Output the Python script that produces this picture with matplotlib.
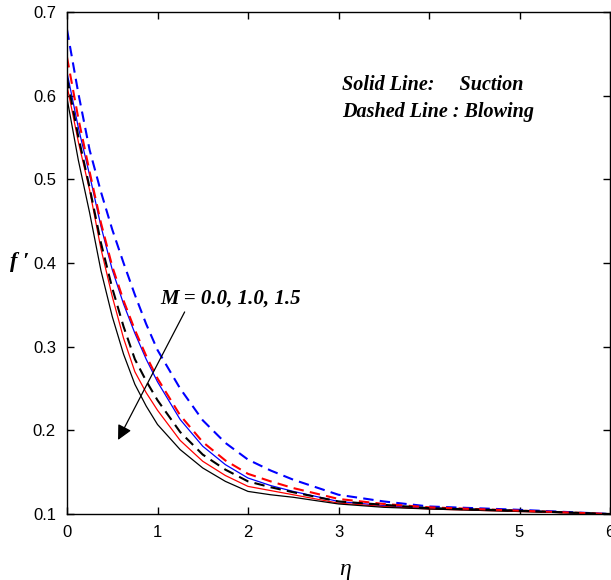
import matplotlib
matplotlib.use("Agg")
import matplotlib.pyplot as plt

# --- data ---
eta = [0.0, 0.125, 0.25, 0.375, 0.5, 0.625, 0.75, 0.875, 1.0, 1.25, 1.5, 1.75,
       2.0, 2.25, 2.5, 3.0, 3.5, 4.0, 5.0, 6.0]

# Dashed (blowing)
blow_M00 = [0.679, 0.603, 0.535, 0.485, 0.440, 0.400, 0.362, 0.327, 0.296, 0.250,
            0.212, 0.185, 0.165, 0.152, 0.141, 0.123, 0.115, 0.109, 0.105, 0.100]
blow_M10 = [0.646, 0.573, 0.509, 0.448, 0.396, 0.355, 0.320, 0.289, 0.262, 0.218,
            0.186, 0.164, 0.148, 0.139, 0.131, 0.118, 0.112, 0.108, 0.104, 0.100]
blow_M15 = [0.621, 0.551, 0.490, 0.424, 0.370, 0.324, 0.285, 0.259, 0.236, 0.198,
            0.171, 0.153, 0.139, 0.132, 0.126, 0.115, 0.111, 0.107, 0.104, 0.100]
# Solid (suction)
suct_M00 = [0.628, 0.562, 0.505, 0.444, 0.392, 0.351, 0.316, 0.285, 0.258, 0.213,
            0.181, 0.159, 0.143, 0.134, 0.127, 0.115, 0.110, 0.107, 0.104, 0.100]
suct_M10 = [0.612, 0.545, 0.487, 0.417, 0.360, 0.310, 0.270, 0.245, 0.224, 0.188,
            0.163, 0.146, 0.133, 0.128, 0.123, 0.113, 0.109, 0.106, 0.103, 0.100]
suct_M15 = [0.597, 0.523, 0.460, 0.391, 0.336, 0.291, 0.255, 0.229, 0.207, 0.177,
            0.155, 0.139, 0.127, 0.123, 0.120, 0.112, 0.108, 0.106, 0.103, 0.100]

xticks = [0, 1, 2, 3, 4, 5, 6]
yticks = [0.1, 0.2, 0.3, 0.4, 0.5, 0.6, 0.7]

serif = ['Liberation Serif', 'DejaVu Serif']
sans = ['Liberation Sans', 'DejaVu Sans']

fig = plt.figure(figsize=(6.11, 5.80), dpi=100)
ax = fig.add_axes([67/611, 1 - 514/580, (610 - 67)/611, (514 - 12)/580])

dash = (5, 3)
ax.plot(eta, suct_M00, color='blue', lw=0.9)
ax.plot(eta, suct_M10, color='red', lw=0.9)
ax.plot(eta, suct_M15, color='black', lw=0.9)
ax.plot(eta, blow_M00, color='blue', lw=1.5, dashes=dash)
ax.plot(eta, blow_M10, color='red', lw=1.5, dashes=dash)
ax.plot(eta, blow_M15, color='black', lw=1.5, dashes=dash)

ax.set_xlim(0, 6)
ax.set_ylim(0.1, 0.7)
ax.set_xticks(xticks)
ax.set_yticks(yticks)
ax.set_xticklabels([str(t) for t in xticks], family=sans, fontsize=12)
ax.set_yticklabels([f"{t:.1f}" for t in yticks], family=sans, fontsize=12)
ax.tick_params(direction='in', top=True, right=True, length=5, width=1, pad=8)
for s in ax.spines.values():
    s.set_linewidth(1.0)

fig.text(345/611, 1 - 569/580, 'η', family=serif, style='italic', fontsize=17,
         ha='center', va='center')
fig.text(20/611, 1 - 262/580, "f ′", family=serif, style='italic', weight='bold',
         fontsize=16, ha='center', va='center')

ax.text(3.04, 0.613, 'Solid Line:     Suction', family=serif, style='italic',
        weight='bold', fontsize=14.5, va='center', ha='left')
ax.text(3.04, 0.580, 'Dashed Line : Blowing', family=serif, style='italic',
        weight='bold', fontsize=14.5, va='center', ha='left')

ax.annotate('', xy=(0.564, 0.1885), xytext=(1.30, 0.3415),
            arrowprops=dict(arrowstyle='-|>', color='black', lw=0.9,
                            mutation_scale=22, shrinkA=0, shrinkB=0))
ax.text(1.03, 0.358, 'M = 0.0, 1.0, 1.5', family=serif, style='italic',
        weight='bold', fontsize=15, va='center', ha='left')

fig.savefig('out.png', dpi=100)
